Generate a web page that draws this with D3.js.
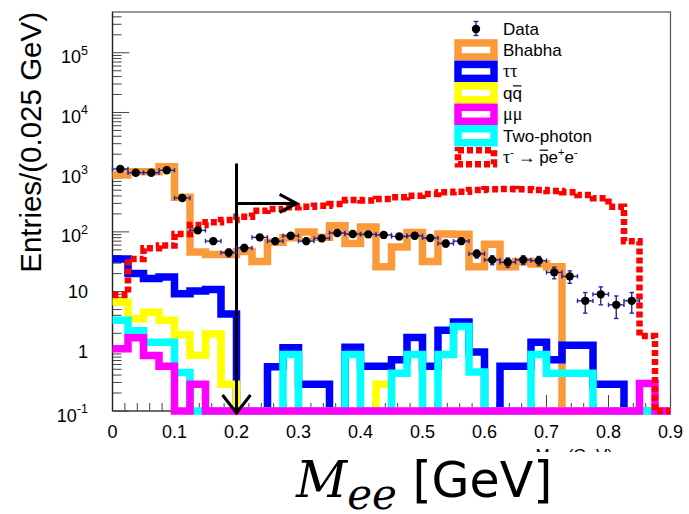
<!DOCTYPE html>
<html>
<head>
<meta charset="utf-8">
<script src="https://cdn.jsdelivr.net/npm/d3@7"></script>
<style>
  body { margin: 0; background: #fff; }
  svg { display: block; }
  text { font-family: "Liberation Sans", Arial, sans-serif; fill: #000; }
</style>
</head>
<body>
<svg id="chart" width="689" height="514"></svg>
<script>
// ---- binning ----
const binWidth = 0.025;          // GeV
const xDomain = [0, 0.9];
const yDomain = [0.1, 4.82e5];

// ---- entries per bin (36 bins, 0 - 0.9 GeV) ----
const dataCounts = [1130, 980, 980, 1075, 370, 106, 70, 45, 54, 81, 70, 86,
                    70, 78, 96, 92, 91, 89, 84, 86, 79, 64, 70, 43,
                    34, 31, 34, 33, 21, 18, 7, 9, 6, 7, null, null];
const bhabha     = [897, 1018, 1018, 1236, 380, 46, 42, 42, 47, 32, 67, 80,
                    100, 81, 127, 64, 121, 26, 56, 98, 32, 92, 91, 26,
                    62, 26, 32, 29, 26, 0, 0, 0, 0, 0, 0, 0];
const tautau     = [35, 20, 16.5, 17.5, 9.2, 10.2, 10.8, 4.2, 0, 0, 0.55, 1.15,
                    0.28, 0.28, 0, 1.17, 0.56, 0.56, 0.72, 1.7, 0.56, 2.25, 3.1, 0.97,
                    0, 0.56, 0.56, 1.42, 0.72, 1.26, 1.26, 0.28, 0.28, 0, 0, 0];
const qqbar      = [6.7, 3.5, 4.5, 3.3, 1.9, 0.86, 1.95, 0.28, 0, 0, 0, 0,
                    0, 0, 0, 0, 0, 0.28, 0, 0, 0, 0, 0, 0,
                    0, 0, 0, 0, 0, 0, 0, 0, 0, 0, 0, 0];
const mumu       = [1.1, 1.68, 0.85, 0.56, 0, 0.28, 0, 0, 0, 0, 0, 0,
                    0, 0, 0, 0, 0, 0, 0, 0, 0, 0, 0, 0,
                    0, 0, 0, 0, 0, 0, 0, 0, 0, 0, 0.29, 0];
const twoPhoton  = [3.3, 2.2, 1.42, 1.42, 0.44, 0, 0, 0, 0, 0, 0, 0.88,
                    0, 0, 0, 0.88, 0, 0, 0.43, 0.88, 0, 0.88, 2.6, 0.45,
                    0, 0, 0, 0.88, 0.43, 0.43, 0.43, 0, 0, 0, 0, 0];
const signal     = [8.8, 35, 53, 59, 92, 131, 145, 158, 180, 226, 242, 258,
                    264, 275, 293, 342, 337, 356, 380, 404, 431, 460, 472, 503,
                    517, 522, 517, 503, 484, 460, 415, 365, 264, 70, 1.8, 0];

// ---- axis ticks ----
const xTickValues = [0, 0.1, 0.2, 0.3, 0.4, 0.5, 0.6, 0.7, 0.8, 0.9];
const xTickLabels = ["0", "0.1", "0.2", "0.3", "0.4", "0.5", "0.6", "0.7", "0.8", "0.9"];
const yTickValues = [0.1, 1, 10, 100, 1e3, 1e4, 1e5];
const yTickBases  = ["10", "1", "10", "10", "10", "10", "10"];
const yTickExps   = ["-1", "", "", "2", "3", "4", "5"];

// ---- selection cut (M_ee > 0.2 GeV) ----
const cutMass = 0.2;
const cutArrowTop = 1400;
const cutArrowLevel = 300;
const cutArrowEnd = 0.297;

// ---- legend ----
const legendNames = ["Data", "Bhabha", "ττ", "qq̄", "μμ", "Two-photon", "τ⁻ → p̄e⁺e⁻"];

const svg = d3.select("#chart");
const x = d3.scaleLinear().domain(xDomain).range([112.5, 670.5]);
const y = d3.scaleLog().domain(yDomain).range([411, 12]);
const nBins = Math.round((xDomain[1] - xDomain[0]) / binWidth);
const edges = d3.range(nBins + 1).map(i => xDomain[0] + i * binWidth);
const floorY = v => y(Math.max(v, yDomain[0]));

// ---- frame ----
svg.append("rect")
  .attr("x", x(xDomain[0])).attr("y", y(yDomain[1]))
  .attr("width", x(xDomain[1]) - x(xDomain[0]))
  .attr("height", y(yDomain[0]) - y(yDomain[1]))
  .attr("fill", "none").attr("stroke", "#555").attr("stroke-width", 1.2);

// x ticks: major every 0.1, minor every 0.02
const xMinor = d3.range(0, 46).map(i => i * 0.02).filter(v => v <= 0.9 + 1e-9);
svg.append("g").selectAll("line").data(xMinor).join("line")
  .attr("x1", d => x(d)).attr("x2", d => x(d))
  .attr("y1", y(yDomain[0]))
  .attr("y2", d => y(yDomain[0]) - (Math.abs(d * 10 - Math.round(d * 10)) < 1e-6 ? 16 : 8))
  .attr("stroke", "#444").attr("stroke-width", 1);

// y ticks: decades plus 2..9 minors
const yMinor = [];
for (let k = -1; k <= 5; k++) for (let m = 1; m <= 9; m++) {
  const v = m * Math.pow(10, k);
  if (v >= yDomain[0] && v <= yDomain[1]) yMinor.push({ v, major: m === 1 });
}
svg.append("g").selectAll("line").data(yMinor).join("line")
  .attr("x1", x(0)).attr("x2", d => x(0) + (d.major ? 16.7 : 9))
  .attr("y1", d => y(d.v)).attr("y2", d => y(d.v))
  .attr("stroke", "#444").attr("stroke-width", 1);

// axis lines
svg.append("line").attr("x1", x(0)).attr("x2", x(0))
  .attr("y1", y(yDomain[0])).attr("y2", y(yDomain[1]))
  .attr("stroke", "#222").attr("stroke-width", 1.3);
svg.append("line").attr("x1", x(0)).attr("x2", x(0.9))
  .attr("y1", y(yDomain[0])).attr("y2", y(yDomain[0]))
  .attr("stroke", "#444").attr("stroke-width", 1.2);

// tick labels
svg.append("g").selectAll("text").data(xTickValues).join("text")
  .attr("x", d => x(d)).attr("y", 438)
  .attr("text-anchor", "middle").attr("font-size", 18)
  .text((d, i) => xTickLabels[i]);

const yLab = svg.append("g").selectAll("text").data(yTickValues).join("text")
  .attr("x", 88)
  .attr("y", (d, i) => y(d) + (yTickExps[i] ? 10.5 : 6.5))
  .attr("text-anchor", "end").attr("font-size", 18);
yLab.append("tspan").text((d, i) => yTickBases[i]);
yLab.append("tspan").attr("font-size", 12.5).attr("dy", -8.5)
  .text((d, i) => yTickExps[i]);

// axis titles
svg.append("text")
  .attr("transform", `translate(41,${y(yDomain[1])}) rotate(-90)`)
  .attr("text-anchor", "end").attr("font-size", 29.5)
  .text("Entries/(0.025 GeV)");

// small frame title, covered by the large one except for its top edge
svg.append("clipPath").attr("id", "smallTitleClip")
  .append("rect").attr("x", 520).attr("y", 446).attr("width", 110).attr("height", 6);
const smallTitle = svg.append("text")
  .attr("clip-path", "url(#smallTitleClip)")
  .attr("x", 613).attr("y", 461).attr("text-anchor", "end")
  .attr("font-size", 17).attr("fill", "#777");
smallTitle.append("tspan").text("M");
smallTitle.append("tspan").attr("font-size", 12).attr("dy", 3).text("ee");
smallTitle.append("tspan").attr("dy", -3).text(" (GeV)");

const mathSerif = "'DejaVu Serif', 'Liberation Serif', serif";
const xTitle = svg.append("text").attr("x", 296).attr("y", 497);
xTitle.append("tspan")
  .attr("font-family", mathSerif)
  .attr("font-style", "italic").attr("font-size", 50).text("M");
xTitle.append("tspan")
  .attr("font-family", mathSerif)
  .attr("font-style", "italic").attr("font-size", 42).attr("dy", 12).text("ee");
xTitle.append("tspan")
  .attr("font-family", "'DejaVu Sans', sans-serif")
  .attr("font-size", 49).attr("dy", -12).text(" [GeV]");

// ---- histograms ----
function stepPath(values) {
  const pts = values.map((v, i) => [edges[i], v]);
  pts.push([edges[nBins], values[nBins - 1]]);
  return d3.line().x(d => x(d[0])).y(d => floorY(d[1])).curve(d3.curveStepAfter)(pts);
}

const histos = [
  { values: bhabha,    color: "#fb9a3b", width: 7.5 },
  { values: tautau,    color: "#0000ff", width: 7.5 },
  { values: qqbar,     color: "#ffff00", width: 7.5 },
  { values: twoPhoton, color: "#00ffff", width: 7.5 },
  { values: mumu,      color: "#ff00ff", width: 7.5 },
  { values: signal,    color: "#ff0000", width: 6.5, dash: "6,3" }
];
svg.append("g").selectAll("path").data(histos).join("path")
  .attr("d", d => stepPath(d.values))
  .attr("fill", "none")
  .attr("stroke", d => d.color)
  .attr("stroke-width", d => d.width)
  .attr("stroke-linejoin", "miter")
  .attr("stroke-dasharray", d => d.dash || null);

// ---- cut arrows ----
const arrowColor = "#000";
svg.append("line")
  .attr("x1", x(cutMass)).attr("x2", x(cutMass))
  .attr("y1", y(cutArrowTop)).attr("y2", y(yDomain[0]) + 2)
  .attr("stroke", arrowColor).attr("stroke-width", 3);
svg.append("polyline")
  .attr("points", [[x(cutMass) - 14, y(yDomain[0]) - 16], [x(cutMass), y(yDomain[0]) + 2], [x(cutMass) + 14, y(yDomain[0]) - 16]].join(" "))
  .attr("fill", "none").attr("stroke", arrowColor).attr("stroke-width", 3);
svg.append("line")
  .attr("x1", x(cutMass)).attr("x2", x(cutArrowEnd))
  .attr("y1", y(cutArrowLevel)).attr("y2", y(cutArrowLevel))
  .attr("stroke", arrowColor).attr("stroke-width", 3);
svg.append("polyline")
  .attr("points", [[x(cutArrowEnd) - 17, y(cutArrowLevel) - 9], [x(cutArrowEnd), y(cutArrowLevel)], [x(cutArrowEnd) - 17, y(cutArrowLevel) + 9]].join(" "))
  .attr("fill", "none").attr("stroke", arrowColor).attr("stroke-width", 3);

// ---- data points with sqrt(N) errors ----
const errColor = "#2525a8";
const pts = dataCounts.map((n, i) => ({ n, lo: edges[i], hi: edges[i + 1], c: edges[i] + binWidth / 2 }))
  .filter(d => d.n !== null && d.n > 0);
const gData = svg.append("g");
const cap = 2.2;
pts.forEach(d => {
  const e = Math.sqrt(d.n);
  const cx = x(d.c), cy = y(d.n);
  const yTop = y(d.n + e), yBot = y(Math.max(d.n - e, yDomain[0]));
  const g = gData.append("g").attr("stroke", errColor).attr("stroke-width", 1.4);
  g.append("line").attr("x1", x(d.lo)).attr("x2", x(d.hi)).attr("y1", cy).attr("y2", cy);
  g.append("line").attr("x1", cx).attr("x2", cx).attr("y1", yTop).attr("y2", yBot);
  g.append("line").attr("x1", x(d.lo)).attr("x2", x(d.lo)).attr("y1", cy - cap).attr("y2", cy + cap);
  g.append("line").attr("x1", x(d.hi)).attr("x2", x(d.hi)).attr("y1", cy - cap).attr("y2", cy + cap);
  g.append("line").attr("x1", cx - cap).attr("x2", cx + cap).attr("y1", yTop).attr("y2", yTop);
  g.append("line").attr("x1", cx - cap).attr("x2", cx + cap).attr("y1", yBot).attr("y2", yBot);
});
gData.selectAll("circle").data(pts).join("circle")
  .attr("cx", d => x(d.c)).attr("cy", d => y(d.n)).attr("r", 4.2).attr("fill", "#000");

// ---- legend ----
const legX = 476, legTextX = 503, legTop = 28.5, legStep = 21.45;
const legend = svg.append("g");
const swatchColors = [null, "#fb9a3b", "#0000ff", "#ffff00", "#ff00ff", "#00ffff", "#ff0000"];
const serif = "'Liberation Serif', 'DejaVu Serif', serif";

legendNames.forEach((name, i) => {
  const cy = legTop + i * legStep;
  if (i === 0) {
    const g = legend.append("g").attr("stroke", errColor).attr("stroke-width", 1.4);
    g.append("line").attr("x1", legX).attr("x2", legX).attr("y1", cy - 7).attr("y2", cy + 7);
    g.append("line").attr("x1", legX - 2.5).attr("x2", legX + 2.5).attr("y1", cy - 7).attr("y2", cy - 7);
    g.append("line").attr("x1", legX - 2.5).attr("x2", legX + 2.5).attr("y1", cy + 7).attr("y2", cy + 7);
    legend.append("circle").attr("cx", legX).attr("cy", cy + 0.5).attr("r", 4.2).attr("fill", "#000");
  } else {
    legend.append("rect")
      .attr("x", legX - 18).attr("y", cy - 7).attr("width", 36).attr("height", 14)
      .attr("fill", "none").attr("stroke", swatchColors[i])
      .attr("stroke-width", i === 6 ? 6.5 : 7.5)
      .attr("stroke-dasharray", i === 6 ? "6,3" : null);
  }
  const t = legend.append("text").attr("x", legTextX).attr("y", cy + 6).attr("font-size", 17);
  const bars = [];
  if (i === 2 || i === 4) {
    t.append("tspan").attr("font-family", serif).attr("font-size", 18).text(name);
  } else if (i === 3) {
    t.append("tspan").text("q");
    bars.push(t.append("tspan").text("q"));
  } else if (i === 6) {
    t.append("tspan").attr("font-family", serif).attr("font-size", 18).text("τ");
    t.append("tspan").attr("font-size", 11).attr("dy", -7).text("-");
    t.append("tspan").attr("font-family", serif).attr("font-size", 18).attr("dy", 7).text("\u2009→\u2009");
    bars.push(t.append("tspan").text("p"));
    t.append("tspan").text("e");
    t.append("tspan").attr("font-size", 11).attr("dy", -7).text("+");
    t.append("tspan").attr("dy", 7).text("e");
    t.append("tspan").attr("font-size", 11).attr("dy", -7).text("-");
  } else {
    t.text(name);
  }
  // overbars for antiparticles
  bars.forEach(b => {
    const n = b.node();
    const start = n.getStartPositionOfChar(0), end = n.getEndPositionOfChar(0);
    legend.append("line")
      .attr("x1", start.x + 0.5).attr("x2", end.x - 0.5)
      .attr("y1", cy - 7).attr("y2", cy - 7)
      .attr("stroke", "#000").attr("stroke-width", 1.2);
  });
});
</script>
</body>
</html>
